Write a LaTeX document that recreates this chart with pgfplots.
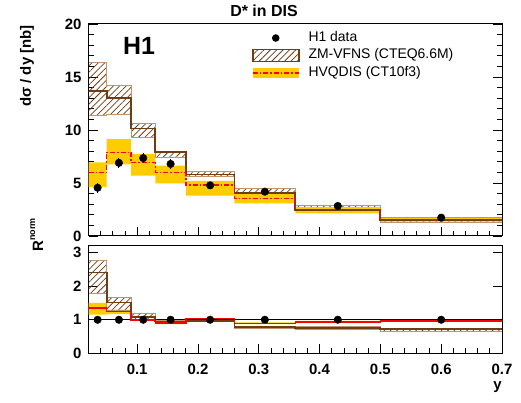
\documentclass[border=0pt]{standalone}
\usepackage{fontspec}
\setmainfont{Liberation Sans}
\usepackage{pgfplots}
\pgfplotsset{compat=1.18}
\usepackage{pgfplotstable}
\usepgfplotslibrary{fillbetween}
\usetikzlibrary{patterns.meta}

\definecolor{zmbrown}{RGB}{112,60,18}
\definecolor{zmlight}{RGB}{190,150,110}
\definecolor{hqyellow}{RGB}{255,204,0}
\definecolor{hqred}{RGB}{255,0,0}

\tikzset{hatch/.style={pattern={Lines[angle=45,distance=4.5bp,line width=0.75bp]}, pattern color=zmbrown}}

% top panel: bin left edges (last row = right edge of last bin)
\pgfplotstableread{
x     zm    zmlo  zmhi  hq    hqlo  hqhi
0.02  13.7  11.35 16.4  5.97  4.6   6.95
0.05  13.0  11.5  14.2  7.9   6.76  9.15
0.09  10.15 9.3   10.6  6.95  5.7   7.74
0.13  7.9   7.4   7.98  5.97  4.97  6.63
0.18  5.8   5.62  6.1   4.81  3.8   5.19
0.26  4.06  4.0   4.48  3.55  3.08  3.96
0.36  2.45  2.4   2.9   2.52  2.14  2.72
0.50  1.51  1.3   1.76  1.57  1.35  1.76
0.70  1.51  1.3   1.76  1.57  1.35  1.76
}\toptab

\pgfplotstableread{
x     zm    zmlo  zmhi  hq    hqlo  hqhi
0.02  2.40  1.77  2.77  1.35  1.15  1.50
0.05  1.51  1.27  1.67  1.25  1.17  1.30
0.09  1.08  1.01  1.20  0.99  0.96  1.02
0.13  0.95  0.90  0.98  0.90  0.87  0.93
0.18  0.97  0.94  1.00  1.03  1.00  1.05
0.26  0.78  0.74  0.80  0.89  0.87  0.92
0.36  0.76  0.70  0.79  0.94  0.92  0.97
0.50  0.73  0.64  0.74  0.96  0.94  1.01
0.70  0.73  0.64  0.74  0.96  0.94  1.01
}\ratiotab

\pgfplotstableread{
x      y     ey
0.035  4.55  0.45
0.07   6.9   0.45
0.11   7.35  0.45
0.155  6.8   0.5
0.22   4.78  0.3
0.31   4.18  0.25
0.43   2.83  0.15
0.60   1.73  0.12
}\datatab

\pgfplotstableread{
x      y     ey
0.035  1.0   0.10
0.07   1.0   0.065
0.11   1.0   0.06
0.155  1.0   0.074
0.22   1.0   0.063
0.31   1.0   0.06
0.43   1.0   0.053
0.60   1.0   0.07
}\rdatatab

\pgfplotsset{
  h1axis/.style={
    scale only axis, width=413.5bp,
    xmin=0.02, xmax=0.7,
    axis line style={line width=1bp},
    tick style={black, line width=0.8bp},
    major tick length=9bp, minor tick length=5bp,
    tick align=inside,
    xtick pos=left, ytick pos=both,
    xtick={0.1,0.2,0.3,0.4,0.5,0.6,0.7},
    minor xtick={0.04,0.06,0.08,0.12,0.14,0.16,0.18,0.22,0.24,0.26,0.28,0.32,0.34,0.36,0.38,0.42,0.44,0.46,0.48,0.52,0.54,0.56,0.58,0.62,0.64,0.66,0.68},
    ticklabel style={font=\bfseries\fontsize{15}{15}\selectfont},
    yticklabel style={xshift=-3.5bp},
    /pgf/number format/assume math mode=true,
  },
}

\begin{document}
\begin{tikzpicture}

% ---------------- top panel ----------------
\begin{axis}[h1axis, name=top,
  at={(88.5bp,167bp)}, anchor=south west, height=212bp,
  ymin=0, ymax=20, ytick={0,5,10,15,20}, minor y tick num=4,
  xticklabels={},
  title={D* in DIS},
  every axis title shift=0pt,
  title style={at={(rel axis cs:0.4244,1)}, anchor=base, yshift=7.3bp, inner sep=0pt,
    font=\bfseries\fontsize{16}{16}\selectfont},
  ylabel={dσ / dy [nb]},
  ylabel style={at={(rel axis cs:-0.1487,0.995)}, anchor=east, inner sep=0pt,
    font=\bfseries\fontsize{15}{15}\selectfont},
  legend style={draw=none, fill=none, at={(rel axis cs:0.3954,0.9656)}, anchor=north west,
    inner sep=0pt, outer sep=0pt, row sep=4bp, column sep=9bp,
    font=\fontsize{14}{14}\selectfont,
    nodes={inner sep=0pt, text height=10bp, text depth=3.5bp}},
  legend cell align=left,
]
\addplot[const plot, zmlight, line width=0.9bp, name path=zmhi, forget plot] table[x=x,y=zmhi]{\toptab};
\addplot[const plot, zmlight, line width=0.9bp, name path=zmlo, forget plot] table[x=x,y=zmlo]{\toptab};
\addplot[hatch, forget plot] fill between[of=zmhi and zmlo];
\addplot[const plot, draw=none, name path=hqhi, forget plot] table[x=x,y=hqhi]{\toptab};
\addplot[const plot, draw=none, name path=hqlo, forget plot] table[x=x,y=hqlo]{\toptab};
\addplot[fill=hqyellow, draw=none, forget plot] fill between[of=hqhi and hqlo];
\addplot[const plot, zmbrown, line width=1.8bp, forget plot] table[x=x,y=zm]{\toptab};
\addplot[const plot, hqred, line width=1.5bp, dash pattern=on 5bp off 2bp on 1.5bp off 2bp, forget plot] table[x=x,y=hq]{\toptab};
\addplot[only marks, mark=*, mark size=3.8bp, black, forget plot,
  error bars/.cd, y dir=both, y explicit, error mark=none, error bar style={line width=1bp}]
  table[x=x,y=y,y error=ey]{\datatab};

\addlegendimage{legend image code/.code={\path[draw=none, fill=none] (0bp,-6bp) rectangle (46bp,6bp); \fill[black, draw=none] (23bp,0bp) circle (3.8bp);}}
\addlegendentry{H1 data}
\addlegendimage{legend image code/.code={\path[fill=white, draw=none] (0bp,-6bp) rectangle (46bp,6bp); \path[hatch, draw=none] (0bp,-6bp) rectangle (46bp,6bp); \draw[zmbrown, line width=1.5bp] (0bp,-6bp) rectangle (46bp,6bp);}}
\addlegendentry{ZM-VFNS (CTEQ6.6M)}
\addlegendimage{legend image code/.code={\path[fill=hqyellow, draw=none] (0bp,-5.3bp) rectangle (46bp,5.3bp); \draw[hqred, line width=1.5bp, dash pattern=on 5bp off 2bp on 1.5bp off 2bp] (0bp,0bp) -- (46bp,0bp);}}
\addlegendentry{HVQDIS (CT10f3)}

\node[anchor=base west, inner sep=0pt, font=\bfseries\fontsize{25}{25}\selectfont] at (rel axis cs:0.0834,0.8538) {H1};
\end{axis}

% ---------------- ratio panel ----------------
\begin{axis}[h1axis, name=bot,
  at={(88.5bp,49.5bp)}, anchor=south west, height=108bp,
  ymin=0, ymax=3.2, ytick={0,1,2,3},
  xticklabel style={yshift=-7.5bp},
  xlabel={y},
  xlabel style={at={(rel axis cs:1,0)}, anchor=north east, inner sep=0pt, yshift=-28.2bp,
    font=\bfseries\fontsize{15}{15}\selectfont},
  ylabel={R\raisebox{8bp}{\fontsize{9}{9}\selectfont norm}},
  ylabel style={at={(rel axis cs:-0.1255,1.2546)}, anchor=east, inner sep=0pt,
    font=\bfseries\fontsize{15}{15}\selectfont},
]
\addplot[const plot, zmlight, line width=0.9bp, name path=rzmhi] table[x=x,y=zmhi]{\ratiotab};
\addplot[const plot, zmlight, line width=0.9bp, name path=rzmlo] table[x=x,y=zmlo]{\ratiotab};
\addplot[hatch] fill between[of=rzmhi and rzmlo];
\addplot[const plot, draw=none, name path=rhqhi] table[x=x,y=hqhi]{\ratiotab};
\addplot[const plot, draw=none, name path=rhqlo] table[x=x,y=hqlo]{\ratiotab};
\addplot[fill=hqyellow, draw=none] fill between[of=rhqhi and rhqlo];
\addplot[black, line width=0.6bp] coordinates {(0.02,1) (0.7,1)};
\addplot[const plot, zmbrown, line width=1.8bp] table[x=x,y=zm]{\ratiotab};
\addplot[const plot, hqred, line width=1.5bp] table[x=x,y=hq]{\ratiotab};
\addplot[only marks, mark=*, mark size=3.8bp, black,
  error bars/.cd, y dir=both, y explicit, error mark=none, error bar style={line width=1bp}]
  table[x=x,y=y,y error=ey]{\rdatatab};
\end{axis}
\pgfresetboundingbox
\useasboundingbox (0,0) rectangle (521bp,403bp);
\end{tikzpicture}
\end{document}
